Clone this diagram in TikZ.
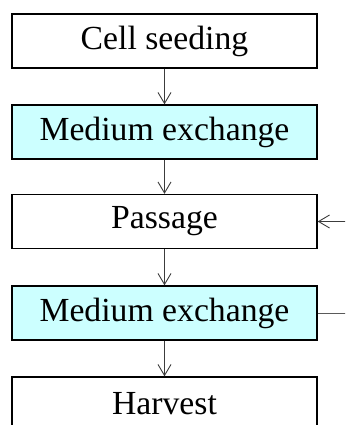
\documentclass[tikz,border=0pt]{standalone}
\usepackage{fontspec}
\setmainfont{Liberation Serif}
\usetikzlibrary{arrows.meta}
\begin{document}
\begin{tikzpicture}[x=1pt,y=1pt,
  stepbox/.style={draw=black,line width=1.3pt,minimum width=305pt,minimum height=54pt,inner sep=0pt,
    font=\fontsize{33.7}{38}\selectfont,text=black},
  hl/.style={stepbox,fill={rgb,255:red,204;green,255;blue,255}},
  conn/.style={draw={rgb,255:red,60;green,60;blue,60},line width=0.9pt,-{Straight Barb[length=11pt,width=13pt]}},
  loopline/.style={draw={rgb,255:red,90;green,90;blue,90},line width=1pt}]
\useasboundingbox (0,0) rectangle (345,-425);
\clip (0,0) rectangle (345,-425);
\node[stepbox] (seed) at (164.5,-41) {Cell seeding};
\node[hl] (me1) at (164.5,-132) {Medium exchange};
\node[stepbox] (pass) at (164.5,-221.5) {Passage};
\node[hl] (me2) at (164.5,-313) {Medium exchange};
\node[stepbox] (harv) at (164.5,-404) {Harvest};
\coordinate (loopc) at (380,-267);
\draw[conn] (seed) -- (me1);
\draw[conn] (me1) -- (pass);
\draw[conn] (pass) -- (me2);
\draw[conn] (me2) -- (harv);
\draw[loopline] (me2.east) -| (loopc);
\draw[conn] (loopc) |- (pass.east);
\end{tikzpicture}
\end{document}
